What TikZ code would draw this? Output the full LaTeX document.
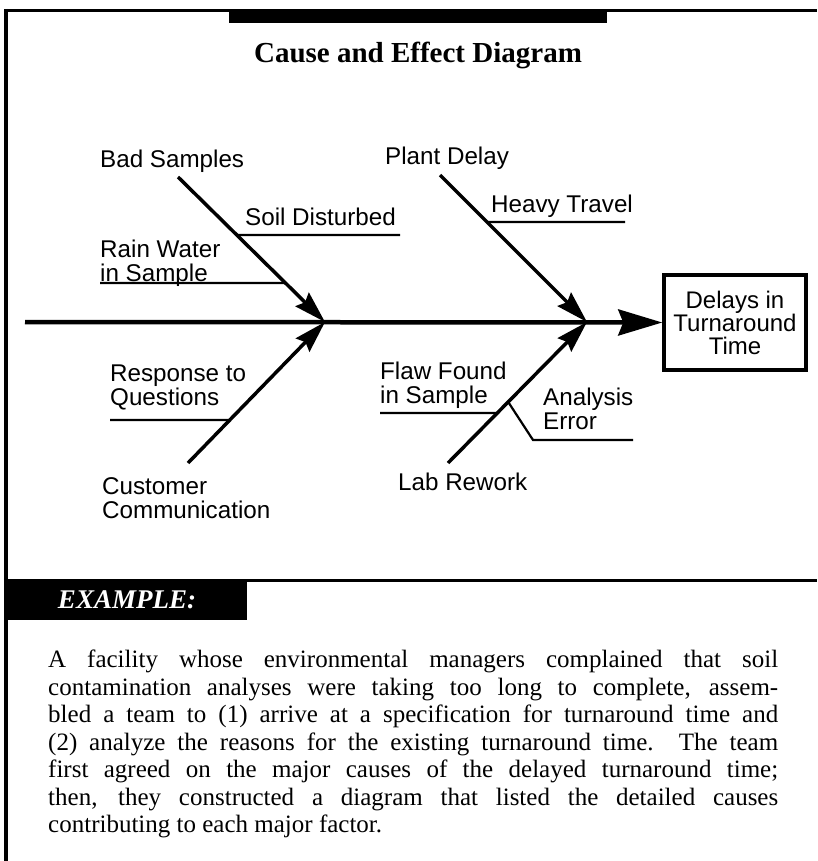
\documentclass[tikz,border=0pt]{standalone}
\usepackage{fontspec}
\setmainfont{Liberation Serif}
\setsansfont{Liberation Sans}
\usetikzlibrary{positioning}
\usetikzlibrary{arrows.meta}
\usetikzlibrary{calc}
\tikzset{cause/.style={font=\sffamily\fontsize{24.2}{24}\selectfont,inner sep=0pt,align=left},
  rib/.style={line width=3.5pt,-{Stealth[length=32pt,width=19pt,inset=4pt]}},
  spine/.style={line width=4.5pt,-{Stealth[length=44pt,width=26pt,inset=5pt]}},
  twig/.style={line width=2.2pt},
  rule/.style={line width=3pt},
  effect box/.style={draw,line width=3.5pt,minimum width=142pt,minimum height=95pt,inner sep=0pt,
    align=center,font=\sffamily\fontsize{24}{23}\selectfont},
  title/.style={font=\rmfamily\bfseries\fontsize{29}{32}\selectfont,inner sep=0pt},
  story/.style={text width=730pt,align=justify,inner sep=0pt,font=\rmfamily\fontsize{25}{27.5}\selectfont},}

\begin{document}
\begin{tikzpicture}[x=1pt,y=-1pt]
    \useasboundingbox (0,0) rectangle (817,861);

    % frame and heading
    \draw[rule] (6,11) -- (817,11);
    \draw[line width=4pt] (6,9) -- (6,861);
    \fill (229,9) rectangle (607,23);
    \node[title,anchor=base] (title) at (418,63) {Cause and Effect Diagram};

    % spine
    \node[effect box] (effect) at (735,322.5) {Delays in\\Turnaround\\Time};
    \coordinate (tail) at (25,322);
    \coordinate (hub1) at (325,322);
    \coordinate (hub2) at (587,322);
    \draw[spine] (tail) -- (effect.west);

    % major causes
    \coordinate (bad) at (178,177);
    \coordinate (plant) at (440,175);
    \coordinate (cust) at (188,463);
    \coordinate (lab) at (448,463);
    \draw[rib] (bad) -- (hub1);
    \draw[rib] (plant) -- (hub2);
    \draw[rib] (cust) -- (hub1);
    \draw[rib] (lab) -- (hub2);
    \node[cause,anchor=north west] (bad-lbl) at (100,150) {Bad Samples};
    \node[cause,anchor=north west] (plant-lbl) at (385,147) {Plant Delay};
    \node[cause,anchor=north west] (cust-lbl) at (102,477) {Customer\\Communication};
    \node[cause,anchor=north west] (lab-lbl) at (398,473) {Lab Rework};

    % detailed causes
    \coordinate (soil) at ($(bad)!.40!(hub1)$);
    \coordinate (soil-end) at (400,235);
    \coordinate (rain) at ($(bad)!.731!(hub1)$);
    \coordinate (rain-end) at (100,283);
    \coordinate (heavy) at ($(plant)!.32!(hub2)$);
    \coordinate (heavy-end) at (625,222);
    \coordinate (resp) at ($(cust)!.305!(hub1)$);
    \coordinate (resp-end) at (110,420);
    \coordinate (flaw) at ($(lab)!.355!(hub2)$);
    \coordinate (flaw-end) at (380,413);
    \coordinate (anal) at ($(lab)!.433!(hub2)$);
    \coordinate (anal-bend) at (533,440);
    \coordinate (anal-end) at (633,440);
    \draw[twig] (soil) -- (soil-end);
    \draw[twig] (rain) -- (rain-end);
    \draw[twig] (heavy) -- (heavy-end);
    \draw[twig] (resp) -- (resp-end);
    \draw[twig] (flaw) -- (flaw-end);
    \draw[twig] (anal) -- (anal-bend) -- (anal-end);
    \node[cause,anchor=north west] (soil-lbl) at (245,208) {Soil Disturbed};
    \node[cause,anchor=north west] (rain-lbl) at (100,240) {Rain Water\\in Sample};
    \node[cause,anchor=north west] (heavy-lbl) at (491,195) {Heavy Travel};
    \node[cause,anchor=north west] (resp-lbl) at (110,365) {Response to\\Questions};
    \node[cause,anchor=north west] (flaw-lbl) at (380,362) {Flaw Found\\in Sample};
    \node[cause,anchor=north west] (anal-lbl) at (543,388) {Analysis\\Error};

    % example
    \draw[rule] (6,580) -- (817,580);
    \fill (6,580) rectangle (247,620);
    \node[text=white,inner sep=0pt,anchor=base,font=\rmfamily\bfseries\itshape\fontsize{27}{27}\selectfont]
        (example) at (127,608) {EXAMPLE:};
    \node[story,anchor=north west] (story) at (48,650) {\noindent
      A facility whose environmental managers complained that soil\linebreak
      contamination analyses were taking too long to complete, assem-\linebreak
      bled a team to (1) arrive at a specification for turnaround time and\linebreak
      (2) analyze the reasons for the existing turnaround time. The team\linebreak
      first agreed on the major causes of the delayed turnaround time;\linebreak
      then, they constructed a diagram that listed the detailed causes\linebreak
      contributing to each major factor.};
\end{tikzpicture}
\end{document}
